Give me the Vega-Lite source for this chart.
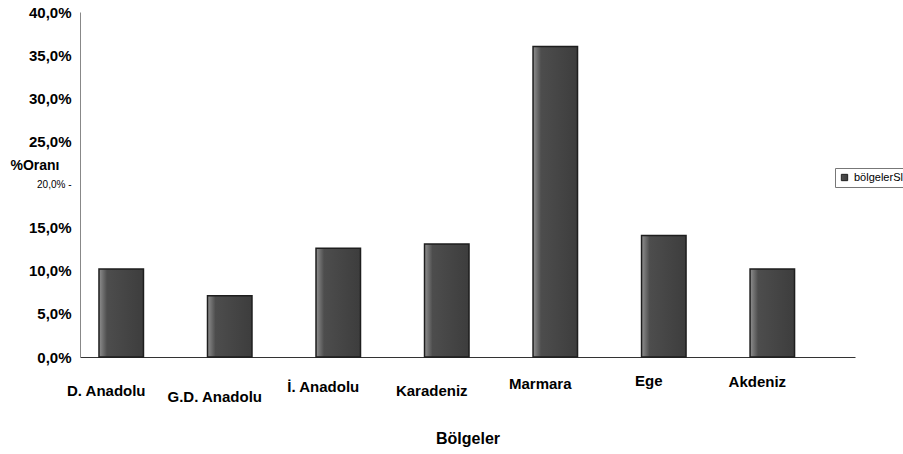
{
  "$schema": "https://vega.github.io/schema/vega-lite/v6.json",
  "autosize": {"type": "none"},
  "width": 775,
  "height": 345,
  "padding": {"left": 80, "top": 12, "right": 48, "bottom": 97},
  "background": "white",
  "data": {
    "values": [
      {"bolge": "D. Anadolu", "oran": 10.2, "seri": "bölgelerSl"},
      {"bolge": "G.D. Anadolu", "oran": 7.1, "seri": "bölgelerSl"},
      {"bolge": "İ. Anadolu", "oran": 12.6, "seri": "bölgelerSl"},
      {"bolge": "Karadeniz", "oran": 13.1, "seri": "bölgelerSl"},
      {"bolge": "Marmara", "oran": 36.0, "seri": "bölgelerSl"},
      {"bolge": "Ege", "oran": 14.1, "seri": "bölgelerSl"},
      {"bolge": "Akdeniz", "oran": 10.2, "seri": "bölgelerSl"}
    ]
  },
  "mark": {
    "type": "bar",
    "strokeWidth": 1.5,
    "fill": {
      "gradient": "linear",
      "x1": 0, "y1": 0, "x2": 1, "y2": 0,
      "stops": [
        {"offset": 0, "color": "#8f8f8f"},
        {"offset": 0.18, "color": "#4d4d4d"},
        {"offset": 1, "color": "#3d3d3d"}
      ]
    }
  },
  "encoding": {
    "x": {
      "field": "bolge",
      "type": "nominal",
      "sort": null,
      "scale": {"paddingInner": 0.59, "paddingOuter": 0.366, "align": 0.239},
      "axis": {
        "title": "Bölgeler",
        "titleFont": "Liberation Sans",
        "titleFontSize": 16,
        "titleFontWeight": "bold",
        "titleColor": "#000",
        "titleY": 81,
        "titleBaseline": "middle",
        "labelAngle": 0,
        "labelFont": "Liberation Sans",
        "labelFontSize": 15,
        "labelFontWeight": "bold",
        "labelColor": "#000",
        "labelOffset": -15,
        "labelPadding": {
          "condition": [
            {"test": "datum.value == 'G.D. Anadolu'", "value": 32},
            {"test": "datum.value == 'İ. Anadolu'", "value": 22},
            {"test": "datum.value == 'Marmara'", "value": 19},
            {"test": "datum.value == 'Ege'", "value": 16},
            {"test": "datum.value == 'Akdeniz'", "value": 17}
          ],
          "value": 26
        },
        "ticks": false,
        "domainColor": "#333",
        "domainWidth": 1
      }
    },
    "y": {
      "field": "oran",
      "type": "quantitative",
      "scale": {"domain": [0, 40], "nice": false},
      "axis": {
        "values": [0, 5, 10, 15, 20, 25, 30, 35, 40],
        "labelExpr": "datum.value == 20 ? replace(format(datum.value, '.1f'), '.', ',') + '% -' : replace(format(datum.value, '.1f'), '.', ',') + '%'",
        "labelFont": "Liberation Sans",
        "labelFontSize": {"condition": {"test": "datum.value == 20", "value": 10}, "value": 15},
        "labelFontWeight": {"condition": {"test": "datum.value == 20", "value": "normal"}, "value": "bold"},
        "labelColor": "#000",
        "labelPadding": 9,
        "ticks": false,
        "grid": false,
        "domainColor": "#888",
        "domainWidth": 1,
        "title": "%Oranı",
        "titleAngle": 0,
        "titleFont": "Liberation Sans",
        "titleFontSize": 14,
        "titleFontWeight": "bold",
        "titleColor": "#000",
        "titleAlign": "left",
        "titleBaseline": "middle",
        "titleX": -70,
        "titleY": 153
      }
    },
    "stroke": {
      "field": "seri",
      "type": "nominal",
      "scale": {"range": ["#1e1e1e"]},
      "legend": {
        "title": null,
        "orient": "none",
        "legendX": 755,
        "legendY": 156,
        "symbolType": "square",
        "symbolSize": 40,
        "symbolFillColor": "#666",
        "symbolStrokeWidth": 1,
        "labelFont": "Liberation Sans",
        "labelFontSize": 11,
        "labelColor": "#000",
        "padding": 4,
        "strokeColor": "#777"
      }
    }
  },
  "config": {"view": {"stroke": null}}
}
